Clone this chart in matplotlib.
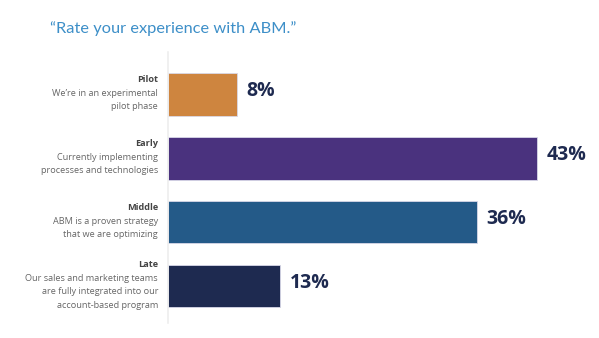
import matplotlib.pyplot as plt

# survey data
stages = ['Pilot', 'Early', 'Middle', 'Late']
descriptions = [
    ["We\u2019re in an experimental", "pilot phase"],
    ["Currently implementing", "processes and technologies"],
    ["ABM is a proven strategy", "that we are optimizing"],
    ["Our sales and marketing teams", "are fully integrated into our", "account-based program"],
]
values = [8, 43, 36, 13]
colors = ['#CE853F', '#4A327E', '#245A88', '#1E2A50']

W, H, DPI = 599, 338, 100
fig = plt.figure(figsize=(W / DPI, H / DPI), dpi=DPI)
ax = fig.add_axes([168 / W, 1 - 323 / H, (590 - 168) / W, (323 - 52) / H])

ypos = list(range(len(stages)))
ax.barh(ypos, values, height=0.67, color=colors, edgecolor='#d8d8e8', linewidth=0.6)
ax.set_xlim(0, 49.2)
ax.set_ylim(3.58, -0.66)

for s in ['top', 'right', 'bottom']:
    ax.spines[s].set_visible(False)
ax.spines['left'].set_color('#eeeeee')
ax.spines['left'].set_linewidth(1.2)
ax.set_xticks([])
ax.set_yticks([])

px = 72 / DPI  # points per pixel

# value labels
for y, v in zip(ypos, values):
    ax.annotate(f'{v}%', (v, y), xytext=(10 * px, 3 * px), textcoords='offset points',
                ha='left', va='center', fontsize=14, fontweight='bold',
                color='#1E2A50', family='Open Sans')

# category labels
step = 13.4
for y, name, desc in zip(ypos, stages, descriptions):
    lines = [name] + desc
    n = len(lines)
    for i, line in enumerate(lines):
        dy = -((i - (n - 1) / 2) * step - 1) * px
        ax.annotate(line, (0, y), xytext=(-10 * px, dy), textcoords='offset points',
                    ha='right', va='center', fontsize=6.6, family='Open Sans',
                    fontweight='bold' if i == 0 else 'normal',
                    color='#444444' if i == 0 else '#666666')

fig.text(50 / W, 1 - 29 / H, '\u201cRate your experience with ABM.\u201d', ha='left', va='center',
         fontsize=11.8, color='#3D8FC8', family='Lato')

fig.savefig('out.png', dpi=DPI)
